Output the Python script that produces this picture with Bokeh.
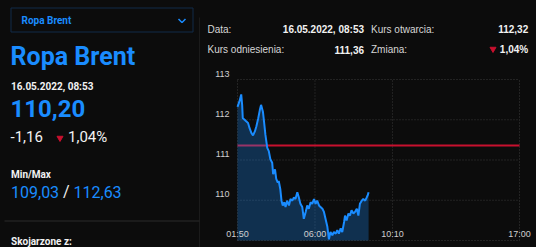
from bokeh.plotting import figure
from bokeh.layouts import row, column
from bokeh.models import Range1d, ColumnDataSource
from bokeh.core.properties import value
from bokeh.embed import file_html
from bokeh.resources import INLINE

# ---------------- data ----------------
times = ["01:50", "01:56", "02:02", "02:05", "02:07", "02:13", "02:18", "02:24", "02:29", "02:35",
         "02:40", "02:46", "02:51", "02:57", "03:02", "03:06", "03:12", "03:15", "03:20", "03:26",
         "03:31", "03:36", "03:42", "03:45", "03:51", "03:55", "04:00", "04:03", "04:08", "04:12",
         "04:16", "04:21", "04:25", "04:30", "04:36", "04:41", "04:47", "04:52", "04:57", "05:03",
         "05:08", "05:13", "05:19", "05:24", "05:30", "05:35", "05:40", "05:46", "05:51", "05:57",
         "06:02", "06:07", "06:13", "06:18", "06:24", "06:29", "06:34", "06:40", "06:45", "06:50",
         "06:56", "07:01", "07:07", "07:12", "07:17", "07:23", "07:28", "07:34", "07:37", "07:42",
         "07:48", "07:53", "07:58", "08:04", "08:09", "08:15", "08:20", "08:25", "08:31", "08:36",
         "08:42", "08:47", "08:50", "08:53"]
prices = [112.32, 112.45, 112.63, 112.37, 112.04, 112.00, 111.96, 111.92, 111.79, 111.67,
          111.61, 111.71, 111.84, 112.04, 112.24, 112.37, 112.20, 112.00, 111.63, 111.30,
          111.22, 111.02, 110.93, 110.65, 110.77, 110.53, 110.44, 110.48, 110.28, 109.99,
          109.87, 109.95, 109.83, 109.99, 109.87, 110.03, 109.99, 110.07, 110.03, 110.20,
          110.07, 109.91, 109.83, 109.54, 109.71, 109.87, 109.79, 109.95, 109.91, 110.03,
          109.91, 109.99, 109.87, 109.83, 109.79, 109.71, 109.54, 109.34, 109.03, 109.21,
          109.13, 109.21, 109.17, 109.26, 109.17, 109.30, 109.21, 109.46, 109.62, 109.50,
          109.67, 109.62, 109.75, 109.67, 109.71, 109.79, 109.62, 109.91, 109.99, 110.03,
          109.99, 110.07, 110.12, 110.20]
reference_price = 111.36
x_tick_labels = ["01:50", "06:00", "10:10", "17:00"]
y_ticks = [109, 110, 111, 112, 113]
y_tick_labels = ["110", "111", "112", "113"]

instrument = "Ropa Brent"
date_str = "16.05.2022, 08:53"
last_price = "110,20"
change_abs = "-1,16"
change_pct = "1,04%"
min_str = "109,03"
max_str = "112,63"
open_price = "112,32"
ref_price_str = "111,36"


def to_min(s):
    h, m = s.split(":")
    return int(h) * 60 + int(m)


BG = "#0c0c0c"
BLUE = "#1a8cff"
RED = "#c8102e"
WHITE = "#f2f2f2"
LABEL = "#d6d6d6"
SEP = "#2b2b2b"
GRID = "#3a3a3a"
TICK = "#cfcfcf"
AR = "Liberation Sans"


def txt(p, x, y, s, size, color, bold=False, align="left", baseline="middle", font="Roboto"):
    p.text(x=[x], y=[y], text=[s], text_font=value(font), text_font_size=size,
           text_font_style="bold" if bold else "normal", text_color=color,
           text_align=align, text_baseline=baseline)


def blank(w, h, xr, yr):
    p = figure(width=w, height=h, x_range=Range1d(*xr), y_range=Range1d(*yr),
               output_backend="svg", toolbar_location=None,
               x_axis_location=None, y_axis_location=None, min_border=0)
    p.grid.visible = False
    p.outline_line_color = None
    p.background_fill_color = BG
    p.border_fill_color = BG
    return p


# ---------------- left panel ----------------
L = blank(200, 247, (0, 200), (247, 0))
L.quad(left=[10.5], right=[192.5], top=[7.5], bottom=[31.5], fill_alpha=0,
       line_color="#112b48", line_width=1)
txt(L, 21, 19.7, instrument, "10px", BLUE, bold=True)
L.line(x=[178, 181.5, 185], y=[18.5, 22, 18.5], line_color=BLUE, line_width=1.5)
txt(L, 10, 55.8, instrument, "25px", BLUE, bold=True)
txt(L, 10.5, 86.3, date_str, "10px", WHITE, bold=True)
txt(L, 10, 107.5, last_price, "24px", BLUE, bold=True)
txt(L, 10, 136.2, change_abs, "15px", WHITE)
L.scatter(x=[59.5], y=[137.5], marker="inverted_triangle", size=6, color=RED)
txt(L, 67.5, 136.2, change_pct, "15px", WHITE)
txt(L, 10.5, 173.7, "Min/Max", "10px", WHITE, bold=True)
txt(L, 10.5, 191.3, min_str, "16px", BLUE)
txt(L, 62.5, 191.3, "/", "16px", WHITE)
txt(L, 73, 191.3, max_str, "16px", BLUE)
L.segment(x0=[4], y0=[220.5], x1=[199], y1=[220.5], line_color=SEP, line_width=1)
L.segment(x0=[199.5], y0=[17], x1=[199.5], y1=[247], line_color=SEP, line_width=1)
txt(L, 10.5, 241, "Skojarzone z:", "10px", WHITE, bold=True)

# ---------------- right header ----------------
H = blank(336, 70, (0, 336), (70, 0))
txt(H, 7, 28.5, "Data:", "10px", LABEL, font=AR)
txt(H, 163.5, 28.5, date_str, "10px", WHITE, bold=True, align="right", font=AR)
txt(H, 170.5, 28.5, "Kurs otwarcia:", "10px", LABEL, font=AR)
txt(H, 327.7, 28.5, open_price, "10px", WHITE, bold=True, align="right", font=AR)
txt(H, 7, 49, "Kurs odniesienia:", "10px", LABEL, font=AR)
txt(H, 163.5, 49, ref_price_str, "10px", WHITE, bold=True, align="right", font=AR)
txt(H, 170.5, 49, "Zmiana:", "10px", LABEL, font=AR)
H.scatter(x=[292.5], y=[48.5], marker="inverted_triangle", size=6, color=RED)
txt(H, 327.7, 49, change_pct, "10px", WHITE, bold=True, align="right", font=AR)

# ---------------- chart ----------------
CW, CH = 336, 177
PAD_L, PAD_R, PAD_T, PAD_B = 37, 17, 9, 7
xs = [to_min(t) for t in times]
x_ticks = [to_min(t) for t in x_tick_labels]
x0, x1 = x_ticks[0], x_ticks[-1]
y0, y1 = y_ticks[0], y_ticks[-1]
ppx = (CW - PAD_L - PAD_R) / (x1 - x0)
ppy = (CH - PAD_T - PAD_B) / (y1 - y0)
C = figure(width=CW, height=CH,
           x_range=Range1d(x0 - PAD_L / ppx, x1 + PAD_R / ppx),
           y_range=Range1d(y0 - PAD_B / ppy, y1 + PAD_T / ppy),
           output_backend="svg", toolbar_location=None,
           x_axis_location=None, y_axis_location=None, min_border=0)
C.grid.visible = False
C.outline_line_color = None
C.background_fill_color = BG
C.border_fill_color = BG

# grid lines (dotted) at ticks, limited to the plot area
C.segment(x0=[x0] * len(y_ticks), y0=y_ticks, x1=[x1] * len(y_ticks), y1=y_ticks,
          line_color=GRID, line_dash="1 2", line_width=1)
C.segment(x0=x_ticks, y0=[y0] * len(x_ticks), x1=x_ticks, y1=[y1] * len(x_ticks),
          line_color=GRID, line_dash="1 2", line_width=1)
# reference line
C.segment(x0=[x0], y0=[reference_price], x1=[x1], y1=[reference_price],
          line_color=RED, line_width=2)

src = ColumnDataSource(dict(x=xs, y=prices))
C.varea(x="x", y1=y0, y2="y", source=src, fill_color="#1e90ff", fill_alpha=0.28)
C.line(x="x", y="y", source=src, line_color=BLUE, line_width=2)

C.text(x=x_ticks, y=[y0] * len(x_ticks), text=x_tick_labels, y_offset=-7,
       text_align="center", text_baseline="middle", text_font=value(AR),
       text_font_size="9px", text_color=TICK)
C.text(x=[x0] * len(y_tick_labels), y=y_ticks[1:], text=y_tick_labels, x_offset=-8,
       y_offset=-6, text_align="right", text_baseline="middle", text_font=value(AR),
       text_font_size="9px", text_color=TICK)

layout = row(L, column(H, C, spacing=0), spacing=0)
layout.styles = {"background-color": BG}
open("out.html", "w").write(file_html(layout, INLINE))
